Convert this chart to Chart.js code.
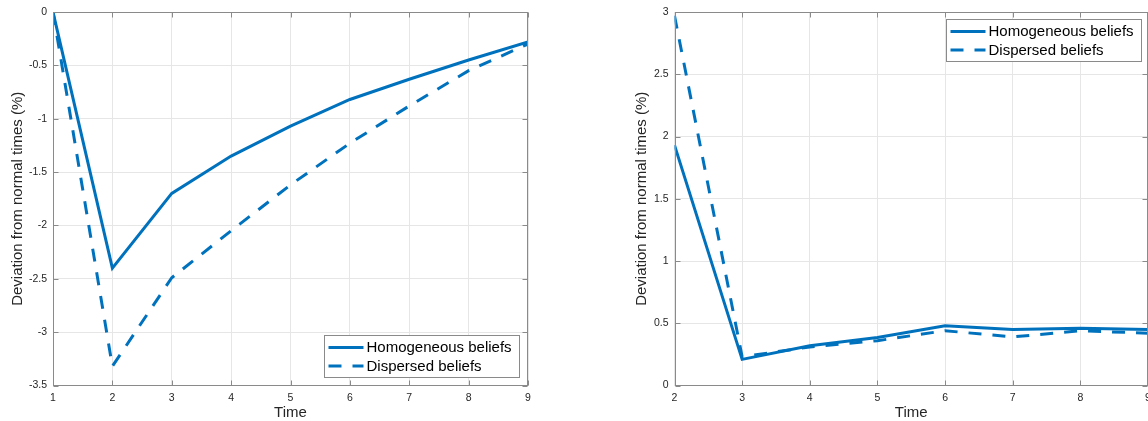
<!DOCTYPE html>
<html>
<head>
<meta charset="utf-8">
<script src="https://cdn.jsdelivr.net/npm/chart.js@4/dist/chart.umd.min.js"></script>
<style>
  html, body { margin: 0; padding: 0; background: #fff; }
  body { width: 1148px; height: 421px; position: relative; overflow: hidden; }
  canvas { position: absolute; top: 0; }
  #c1 { left: 0; }
  #c2 { left: 600px; }
</style>
</head>
<body>
<canvas id="c1" width="560" height="421"></canvas>
<canvas id="c2" width="548" height="421"></canvas>
<script>
// ---- Data ----
const timeLeft = [1, 2, 3, 4, 5, 6, 7, 8, 9];
const homogeneousLeft = [0, -2.40, -1.70, -1.35, -1.07, -0.82, -0.63, -0.45, -0.28];
const dispersedLeft   = [0, -3.32, -2.49, -2.05, -1.62, -1.23, -0.88, -0.55, -0.30];

const timeRight = [2, 3, 4, 5, 6, 7, 8, 9];
const homogeneousRight = [1.93, 0.21, 0.32, 0.385, 0.48, 0.45, 0.46, 0.45];
const dispersedRight   = [2.97, 0.23, 0.31, 0.36, 0.44, 0.39, 0.44, 0.42];

const seriesNames = ['Homogeneous beliefs', 'Dispersed beliefs'];
const xTickLabelsLeft = ['1','2','3','4','5','6','7','8','9'];
const xTickLabelsRight = ['2','3','4','5','6','7','8','9'];
const yTickLabelsLeft = ['-3.5','-3','-2.5','-2','-1.5','-1','-0.5','0'];
const yTickLabelsRight = ['0','0.5','1','1.5','2','2.5','3'];
const xTitle = 'Time';
const yTitle = 'Deviation from normal times (%)';

// ---- Styles ----
const FONT = '"Liberation Sans", Arial, Helvetica, sans-serif';
const TEXT = '#262626';
const BLUE = '#0072BD';
const GRID = '#e6e6e6';
const AXIS = '#8a8a8a';
const DASH = [13, 11];

function pts(xs, ys) { return xs.map((x, i) => ({ x: x, y: ys[i] })); }

const boxPlugin = {
  id: 'matlabBox',
  afterDraw(chart) {
    const { ctx, chartArea: a, scales } = chart;
    ctx.save();
    ctx.strokeStyle = AXIS;
    ctx.lineWidth = 1;
    const L = Math.round(a.left) + 0.5, R = Math.round(a.right) - 0.5;
    const T = Math.round(a.top) + 0.5, B = Math.round(a.bottom) - 0.5;
    ctx.strokeRect(L, T, R - L, B - T);
    const tl = 5;
    ctx.beginPath();
    scales.x.ticks.forEach(t => {
      const px = Math.round(scales.x.getPixelForValue(t.value)) + 0.5;
      ctx.moveTo(px, B); ctx.lineTo(px, B - tl);
      ctx.moveTo(px, T); ctx.lineTo(px, T + tl);
    });
    scales.y.ticks.forEach(t => {
      const py = Math.round(scales.y.getPixelForValue(t.value)) + 0.5;
      ctx.moveTo(L, py); ctx.lineTo(L + tl, py);
      ctx.moveTo(R, py); ctx.lineTo(R - tl, py);
    });
    ctx.stroke();

    // legend box
    const lg = chart.options.plugins.boxLegend;
    const w = 195, h = 42;
    let bx, by;
    if (lg.corner === 'br') { bx = a.right - 9 - w; by = a.bottom - 8.5 - h; }
    else { bx = a.right - 7 - w; by = a.top + 7; }
    bx = Math.round(bx) + 0.5; by = Math.round(by) + 0.5;
    ctx.fillStyle = '#fff';
    ctx.fillRect(bx, by, w, h);
    ctx.strokeStyle = AXIS;
    ctx.strokeRect(bx, by, w, h);
    chart.data.datasets.forEach((ds, i) => {
      const cy = by + 12 + i * 18.5;
      ctx.beginPath();
      ctx.strokeStyle = BLUE;
      ctx.lineWidth = 3;
      ctx.setLineDash(ds.borderDash || []);
      ctx.moveTo(bx + 4, cy); ctx.lineTo(bx + 39, cy);
      ctx.stroke();
      ctx.setLineDash([]);
      ctx.fillStyle = '#000';
      ctx.font = '15px ' + FONT;
      ctx.textBaseline = 'middle';
      ctx.textAlign = 'left';
      ctx.fillText(ds.label, bx + 42, cy + 0.5);
    });
    ctx.restore();
  }
};

function makeChart(id, xs, hom, disp, cfg) {
  return new Chart(document.getElementById(id), {
    type: 'line',
    data: {
      datasets: [
        { label: seriesNames[0], data: pts(xs, hom), borderColor: BLUE, borderWidth: 3,
          pointRadius: 0, tension: 0, fill: false },
        { label: seriesNames[1], data: pts(xs, disp), borderColor: BLUE, borderWidth: 3,
          borderDash: DASH, pointRadius: 0, tension: 0, fill: false }
      ]
    },
    options: {
      responsive: false,
      animation: false,
      devicePixelRatio: 1,
      layout: { padding: cfg.padding },
      plugins: {
        legend: { display: false },
        tooltip: { enabled: false },
        boxLegend: { corner: cfg.corner }
      },
      scales: {
        x: {
          type: 'linear', min: cfg.xmin, max: cfg.xmax,
          afterFit: s => { s.height = cfg.xh; s.paddingLeft = 0; s.paddingRight = 0; },
          afterBuildTicks: s => { s.ticks = cfg.xLabels.map(v => ({ value: +v })); },
          ticks: { callback: (v) => cfg.xLabels[cfg.xLabels.indexOf(String(v))] ?? String(v),
                   font: { family: FONT, size: 10.5 }, color: TEXT, padding: 6, maxRotation: 0 },
          grid: { color: GRID, lineWidth: 1, drawTicks: false },
          border: { display: false },
          title: { display: true, text: xTitle, font: { family: FONT, size: 15 }, color: TEXT,
                   padding: { top: 0, bottom: -1 } }
        },
        y: {
          type: 'linear', min: cfg.ymin, max: cfg.ymax,
          afterFit: s => { s.width = cfg.yw; s.paddingTop = 0; s.paddingBottom = 0; },
          afterBuildTicks: s => { s.ticks = cfg.yLabels.map(v => ({ value: +v })); },
          ticks: { callback: (v) => cfg.yLabels.find(l => +l === v) ?? String(v),
                   font: { family: FONT, size: 10.5 }, color: TEXT, padding: 6 },
          grid: { color: GRID, lineWidth: 1, drawTicks: false },
          border: { display: false },
          title: { display: true, text: yTitle, font: { family: FONT, size: 15 }, color: TEXT,
                   padding: { top: cfg.ytp, bottom: 0 } }
        }
      }
    },
    plugins: [boxPlugin]
  });
}

makeChart('c1', timeLeft, homogeneousLeft, dispersedLeft, {
  padding: { left: 0, top: 12, right: 32, bottom: 0 },
  xmin: 1, xmax: 9, ymin: -3.5, ymax: 0, xh: 35.5, yw: 53, ytp: 8.5,
  xLabels: xTickLabelsLeft, yLabels: yTickLabelsLeft, corner: 'br'
});
makeChart('c2', timeRight, homogeneousRight, dispersedRight, {
  padding: { left: 25, top: 12, right: 0, bottom: 0 },
  xmin: 2, xmax: 9, ymin: 0, ymax: 3, xh: 35.5, yw: 49.5, ytp: 8.3,
  xLabels: xTickLabelsRight, yLabels: yTickLabelsRight, corner: 'tr'
});
</script>
</body>
</html>
